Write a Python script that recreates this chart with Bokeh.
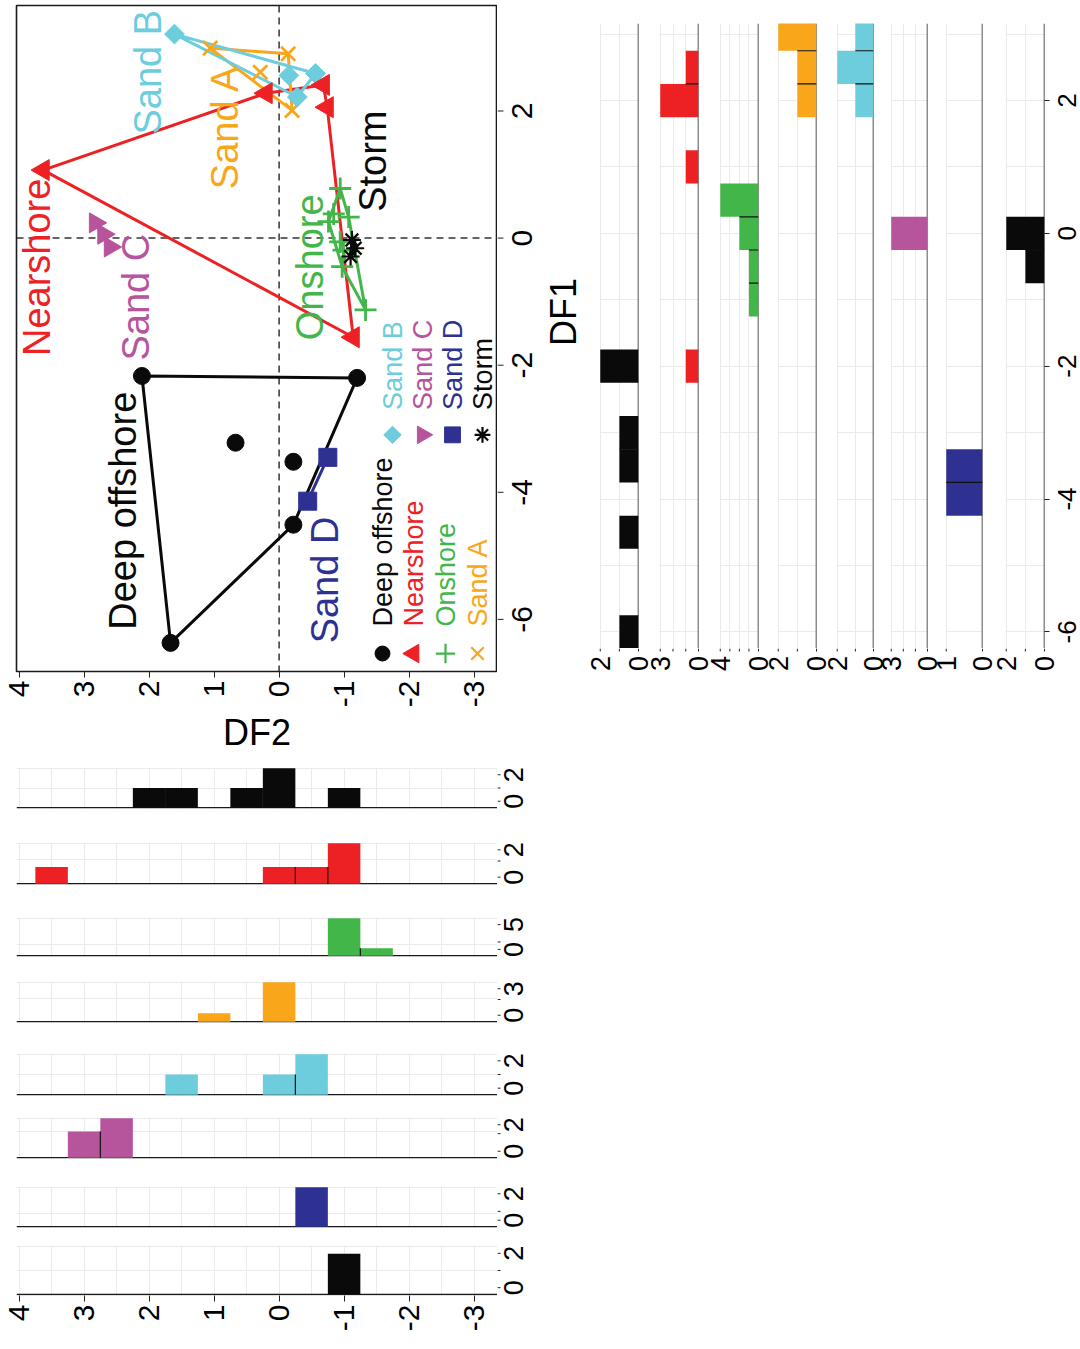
import math
from bokeh.plotting import figure
from bokeh.layouts import row, column
from bokeh.models import Range1d, FixedTicker, Span, Grid
from bokeh.embed import file_html
from bokeh.resources import INLINE
from bokeh.core.properties import value

FONT = "Liberation Sans"

# ------------------------------------------------------------------ data
groups = ["Deep offshore", "Nearshore", "Onshore", "Sand A",
          "Sand B", "Sand C", "Sand D", "Storm"]
group_colors = ["#0a0a0a", "#ed2024", "#42b649", "#faa61a",
                "#6dcddc", "#b6549c", "#2e3192", "#0a0a0a"]

# discriminant scores (DF2, DF1) per group
deep_df2 = [2.11, 0.67, 1.67, -1.20, -0.22, -0.22]
deep_df1 = [-2.17, -3.22, -6.37, -2.20, -3.52, -4.51]
near_df2 = [3.63, 0.20, -0.68, -0.74, -1.14]
near_df1 = [1.07, 2.28, 2.41, 2.06, -1.56]
onsh_df2 = [-0.94, -0.84, -1.07, -0.76, -0.94, -0.99, -0.97, -1.33]
onsh_df1 = [0.78, 0.38, 0.33, 0.26, -0.06, -0.19, -0.45, -1.13]
sanda_df2 = [1.06, -0.14, 0.29, -0.20]
sanda_df1 = [2.99, 2.90, 2.61, 2.01]
sandb_df2 = [1.61, -0.56, -0.28, -0.15]
sandb_df1 = [3.21, 2.59, 2.22, 2.56]
sandc_df2 = [2.83, 2.70, 2.60]
sandc_df1 = [0.24, 0.06, -0.14]
sandd_df2 = [-0.75, -0.44]
sandd_df1 = [-3.45, -4.14]
storm_df2 = [-1.12, -1.17, -1.10]
storm_df1 = [-0.03, -0.16, -0.29]

# DF1 histograms (bin centres, bar heights), bin width 0.5
deep_h1_c = [-6.0, -4.5, -3.5, -3.0, -2.0]
deep_h1_n = [1, 1, 1, 1, 2]
near_h1_c = [-2.0, 1.0, 2.0, 2.5]
near_h1_n = [1, 1, 3, 1]
onsh_h1_c = [-1.0, -0.5, 0.0, 0.5]
onsh_h1_n = [1, 1, 2, 4]
sanda_h1_c = [2.0, 2.5, 3.0]
sanda_h1_n = [1, 1, 2]
sandb_h1_c = [2.0, 2.5, 3.0]
sandb_h1_n = [1, 2, 1]
sandc_h1_c = [0.0]
sandc_h1_n = [3]
sandd_h1_c = [-4.0, -3.5]
sandd_h1_n = [1, 1]
storm_h1_c = [-0.5, 0.0]
storm_h1_n = [1, 2]
h1_axis_max = [2, 3, 4, 2, 2, 3, 1, 2]

# DF2 histograms (bin centres, bar heights), bin width 0.5
deep_h2_c = [-1.0, 0.0, 0.5, 1.5, 2.0]
deep_h2_n = [1, 2, 1, 1, 1]
near_h2_c = [-1.0, -0.5, 0.0, 3.5]
near_h2_n = [2, 0.83, 0.83, 0.83]
onsh_h2_c = [-1.5, -1.0]
onsh_h2_n = [1, 5]
sanda_h2_c = [0.0, 1.0]
sanda_h2_n = [3, 0.65]
sandb_h2_c = [-0.5, 0.0, 1.5]
sandb_h2_n = [2, 1, 1]
sandc_h2_c = [2.5, 3.0]
sandc_h2_n = [2, 1.33]
sandd_h2_c = [-0.5]
sandd_h2_n = [2]
storm_h2_c = [-1.0]
storm_h2_n = [1.7]
h2_axis_max = [2, 2, 5, 3, 2, 2, 2, 2]
h2_axis_mid = [1, 1.18, 1.5, 1.78, 1, 1.33, 0.67, 1]

df2_ticks = [-3, -2, -1, 0, 1, 2, 3, 4]
df1_ticks = [-6, -4, -2, 0, 2]
BIN_W = 0.5

scatter_df2 = [deep_df2, near_df2, onsh_df2, sanda_df2, sandb_df2, sandc_df2, sandd_df2, storm_df2]
scatter_df1 = [deep_df1, near_df1, onsh_df1, sanda_df1, sandb_df1, sandc_df1, sandd_df1, storm_df1]
h1_c = [deep_h1_c, near_h1_c, onsh_h1_c, sanda_h1_c, sandb_h1_c, sandc_h1_c, sandd_h1_c, storm_h1_c]
h1_n = [deep_h1_n, near_h1_n, onsh_h1_n, sanda_h1_n, sandb_h1_n, sandc_h1_n, sandd_h1_n, storm_h1_n]
h2_c = [deep_h2_c, near_h2_c, onsh_h2_c, sanda_h2_c, sandb_h2_c, sandc_h2_c, sandd_h2_c, storm_h2_c]
h2_n = [deep_h2_n, near_h2_n, onsh_h2_n, sanda_h2_n, sandb_h2_n, sandc_h2_n, sandd_h2_n, storm_h2_n]

# ------------------------------------------------------------------ styles / layout (page px)
SC_LEFT, SC_RIGHT, SC_TOP, SC_BOTTOM = 16, 497, 5, 672
SC_BORDER_B = 84
SC_STRIP_W = 88
DF2_LEFT, DF2_RIGHT = 4.04, -3.36
DF1_TOP, DF1_BOTTOM = 3.66, -6.82
GRID = "#ebebeb"
TICK_FONT = "30px"
COUNT_FONT = "27px"


def sx(px):
    return DF2_LEFT + (px - SC_LEFT) / (SC_RIGHT - SC_LEFT) * (DF2_RIGHT - DF2_LEFT)


def sy(py):
    return DF1_TOP + (py - SC_TOP) / (SC_BOTTOM - SC_TOP) * (DF1_BOTTOM - DF1_TOP)


marker_style = [
    dict(marker="circle", size=17, lw=1),
    dict(marker="triangle", size=21, lw=1, angle=math.pi / 2),
    dict(marker="cross", size=22, lw=2.8),
    dict(marker="x", size=20, lw=2.8),
    dict(marker="square", size=14, lw=1, angle=math.pi / 4),
    dict(marker="inverted_triangle", size=20, lw=1, angle=math.pi / 2),
    dict(marker="square", size=18, lw=1),
    dict(marker="asterisk", size=18, lw=2.2),
]


def hull(xs, ys):
    pts = sorted(set(zip(xs, ys)))
    if len(pts) <= 2:
        return pts

    def cross(o, a, b):
        return (a[0] - o[0]) * (b[1] - o[1]) - (a[1] - o[1]) * (b[0] - o[0])

    lower, upper = [], []
    for p in pts:
        while len(lower) >= 2 and cross(lower[-2], lower[-1], p) <= 0:
            lower.pop()
        lower.append(p)
    for p in reversed(pts):
        while len(upper) >= 2 and cross(upper[-2], upper[-1], p) <= 0:
            upper.pop()
        upper.append(p)
    return lower[:-1] + upper[:-1]


def separators(centres, counts):
    pairs = sorted(zip(centres, counts))
    out = []
    for (c0, n0), (c1, n1) in zip(pairs, pairs[1:]):
        if abs(c1 - c0 - BIN_W) < 1e-6 and n0 > 0 and n1 > 0:
            out.append(((c0 + c1) / 2.0, min(n0, n1)))
    return out


def fmt(v):
    return ("%g" % v).replace("\u2212", "-")


def tick_style(ax, size, tick_out=5, standoff=3):
    ax.major_label_text_font = FONT
    ax.major_label_text_font_size = size
    ax.major_label_text_color = "black"
    ax.major_label_orientation = math.pi / 2
    ax.major_label_standoff = standoff
    ax.major_tick_in = 0
    ax.major_tick_out = tick_out
    ax.major_tick_line_color = "#222222"
    ax.major_tick_line_width = 1
    ax.minor_tick_line_color = None
    ax.axis_line_color = None


def clean(p):
    p.outline_line_color = None
    p.background_fill_color = "white"
    p.border_fill_color = "white"
    for g in p.grid:
        g.visible = False


def bare(width, height, x_range, y_range, bt=0, bb=0):
    f = figure(width=width, height=height, x_range=x_range, y_range=y_range,
               x_axis_location=None, y_axis_location=None,
               min_border_left=0, min_border_right=0, min_border_top=bt, min_border_bottom=bb,
               output_backend="svg", toolbar_location=None)
    clean(f)
    return f


def strip(width, bt, frame_h, bb, y_range, tick_vals, tick_len, label_vals, label_x, font_size):
    """Narrow figure at the right of a panel carrying centred, rotated tick labels."""
    f = bare(width, bt + frame_h + bb, Range1d(0, width), y_range, bt, bb)
    if tick_len > 0:
        f.segment(x0=0, x1=tick_len, y0=tick_vals, y1=tick_vals, line_color="#222222", line_width=1)
    f.text(x=[label_x] * len(label_vals), y=label_vals, text=[fmt(v) for v in label_vals],
           angle=math.pi / 2, text_font=value(FONT), text_font_size=font_size,
           text_color="black", text_align="center", text_baseline="middle")
    return f


# ------------------------------------------------------------------ scatter
sc_h = SC_TOP + (SC_BOTTOM - SC_TOP) + SC_BORDER_B
sc_yr = Range1d(DF1_BOTTOM, DF1_TOP)
ps = figure(width=SC_RIGHT, height=sc_h,
            x_range=Range1d(DF2_LEFT, DF2_RIGHT), y_range=sc_yr,
            x_axis_location="below", y_axis_location=None,
            min_border_left=SC_LEFT, min_border_right=0,
            min_border_top=SC_TOP, min_border_bottom=SC_BORDER_B,
            output_backend="svg", toolbar_location=None)
clean(ps)
ps.outline_line_color = "#1a1a1a"
ps.outline_line_width = 1.6

xa = ps.xaxis[0]
xa.ticker = FixedTicker(ticks=df2_ticks)
xa.major_label_overrides = {t: fmt(t) for t in df2_ticks}
tick_style(xa, TICK_FONT, tick_out=6, standoff=3)
xa.axis_label = "DF2"
xa.axis_label_text_font = FONT
xa.axis_label_text_font_size = "36px"
xa.axis_label_text_font_style = "normal"
xa.axis_label_text_color = "black"
xa.axis_label_standoff = 2

ps.add_layout(Span(location=0, dimension="height", line_color="#333333",
                   line_dash="7 5", line_width=1.5, level="underlay"))
ps.add_layout(Span(location=0, dimension="width", line_color="#333333",
                   line_dash="7 5", line_width=1.5, level="underlay"))

for i in range(len(groups)):
    h = hull(scatter_df2[i], scatter_df1[i])
    hx = [q[0] for q in h] + [h[0][0]]
    hy = [q[1] for q in h] + [h[0][1]]
    ps.line(hx, hy, line_color=group_colors[i], line_width=3, line_join="round")

draw_order = [6, 0, 2, 7, 3, 4, 1, 5]
for i in draw_order:
    st = marker_style[i]
    c = group_colors[i]
    ps.scatter(scatter_df2[i], scatter_df1[i], marker=st["marker"], size=st["size"],
               angle=st.get("angle", 0.0), fill_color=c, line_color=c, line_width=st["lw"])

# group names written beside the clusters
name_df2 = [2.40, 3.72, -0.47, 0.84, 2.02, 2.20, -0.71, -1.45]
name_df1 = [-4.29, -0.46, -0.46, 1.75, 2.61, -0.93, -5.38, 1.21]
ps.text(x=name_df2, y=name_df1, text=groups, angle=math.pi / 2,
        text_font=value(FONT), text_font_size="38px", text_color=group_colors,
        text_align="center", text_baseline="middle")

# legend (two blocks of four entries)
leg_cols_px = [[382, 413, 445, 477], [392, 422, 452, 482]]
leg_marker_py = [654, 435]
leg_text_py = [627, 410]
for b in range(2):
    for k in range(4):
        i = b * 4 + k
        st = marker_style[i]
        c = group_colors[i]
        ps.scatter([sx(leg_cols_px[b][k])], [sy(leg_marker_py[b])], marker=st["marker"],
                   size=st["size"] * 0.88, angle=st.get("angle", 0.0),
                   fill_color=c, line_color=c, line_width=min(st["lw"], 2.2))
        ps.text(x=[sx(leg_cols_px[b][k])], y=[sy(leg_text_py[b])], text=[groups[i]],
                angle=math.pi / 2, text_font=value(FONT), text_font_size="27px",
                text_color=c, text_align="left", text_baseline="middle")

# right-hand DF1 axis of the scatter (ticks, labels and title)
ps_strip = strip(SC_STRIP_W, SC_TOP, SC_BOTTOM - SC_TOP, SC_BORDER_B, sc_yr,
                 df1_ticks, 6, df1_ticks, 24, TICK_FONT)
ps_strip.text(x=[563 - SC_RIGHT], y=[sy(312)], text=["DF1"], angle=math.pi / 2,
              text_font=value(FONT), text_font_size="36px", text_color="black",
              text_align="center", text_baseline="middle")

# ------------------------------------------------------------------ DF2 histograms (rows)
row_T = [767, 842, 917, 981, 1053, 1117, 1186, 1245]
row_B = [808, 884, 956, 1022, 1095, 1158, 1227, 1295]
EXT = 10
ROW_AXIS_B = 44
ROW_STRIP_W = 43

rows = []
prev_end = sc_h
for i in range(len(groups)):
    bt = row_T[i] - prev_end
    last = i == len(groups) - 1
    bb = ROW_AXIS_B if last else EXT
    top = h2_axis_max[i]
    y0, y1 = -0.02 * top, top * 1.02
    fh = row_B[i] - row_T[i]
    pr = figure(width=SC_RIGHT, height=bt + fh + bb,
                x_range=Range1d(DF2_LEFT, DF2_RIGHT), y_range=Range1d(y0, y1),
                x_axis_location="below" if last else None, y_axis_location=None,
                min_border_left=SC_LEFT, min_border_right=0,
                min_border_top=bt, min_border_bottom=bb,
                output_backend="svg", toolbar_location=None)
    clean(pr)
    pr.add_layout(Grid(dimension=0, ticker=FixedTicker(ticks=[v * 0.5 for v in range(-6, 9)]),
                       grid_line_color=GRID, grid_line_width=1))
    pr.add_layout(Grid(dimension=1, ticker=FixedTicker(ticks=[h2_axis_mid[i], top]),
                       grid_line_color=GRID, grid_line_width=1))
    if last:
        ax = pr.xaxis[0]
        ax.ticker = FixedTicker(ticks=df2_ticks)
        ax.major_label_overrides = {t: fmt(t) for t in df2_ticks}
        tick_style(ax, TICK_FONT, tick_out=6, standoff=3)
    pr.add_layout(Span(location=0, dimension="width", line_color="#1a1a1a",
                       line_width=1.5, level="underlay"))
    c = group_colors[i]
    cs, ns = h2_c[i], h2_n[i]
    pr.quad(left=[v + BIN_W / 2 for v in cs], right=[v - BIN_W / 2 for v in cs],
            bottom=0, top=ns, fill_color=c, line_color=None)
    seps = separators(cs, ns)
    if seps:
        pr.segment(x0=[s[0] for s in seps], y0=0, x1=[s[0] for s in seps], y1=[s[1] for s in seps],
                   line_color="#111111", line_width=1.2)
    # count axis on the right, drawn in a strip with centred rotated labels
    ppu = fh / (y1 - y0)
    st_yr = Range1d(y0 - EXT / ppu, y1 + EXT / ppu)
    rs = strip(ROW_STRIP_W, bt - EXT, fh + 2 * EXT, bb - EXT, st_yr,
               [0, h2_axis_mid[i], top], 3, [0, top], 16, COUNT_FONT)
    rows.append(row(pr, rs))
    prev_end = row_B[i] + bb

# ------------------------------------------------------------------ DF1 histograms (columns)
col_L = [599, 659, 719, 777, 836, 890, 945, 1005]
col_R = [638, 698, 758, 816, 873, 927, 982, 1044]
COL_TOP, COL_BOTTOM = 23, 648
COL_AXIS_H = 34
H1_TOP, H1_BOTTOM = 3.16, -6.25
col_yr = Range1d(H1_BOTTOM, H1_TOP)
LAST_BR = 9
BLOCK_LEFT = SC_RIGHT + SC_STRIP_W
PAGE_W = 1080

cols = []
start = BLOCK_LEFT
n = len(groups)
tick_px, lab_px, lab_txt = [], [], []
for i in range(n):
    last = i == n - 1
    bl = col_L[i] - start
    br = LAST_BR if last else (col_L[i + 1] - col_R[i]) // 2
    fw = col_R[i] - col_L[i]
    m = h1_axis_max[i]
    xmax = m * 1.02
    pc = figure(width=bl + fw + br, height=COL_BOTTOM,
                x_range=Range1d(xmax, 0), y_range=col_yr,
                x_axis_location=None, y_axis_location="right" if last else None,
                min_border_left=bl, min_border_right=br,
                min_border_top=COL_TOP, min_border_bottom=0,
                output_backend="svg", toolbar_location=None)
    clean(pc)
    pc.add_layout(Grid(dimension=1, ticker=FixedTicker(ticks=list(range(-6, 4))),
                       grid_line_color=GRID, grid_line_width=1))
    pc.add_layout(Grid(dimension=0, ticker=FixedTicker(ticks=list(range(1, m + 1))),
                       grid_line_color=GRID, grid_line_width=1))
    if last:
        ay = pc.yaxis[0]
        ay.ticker = FixedTicker(ticks=df1_ticks)
        ay.major_label_overrides = {t: "" for t in df1_ticks}
        ay.major_label_text_font_size = "1px"
        ay.major_label_standoff = 0
        ay.major_tick_in = 0
        ay.major_tick_out = 5
        ay.major_tick_line_color = "#222222"
        ay.minor_tick_line_color = None
        ay.axis_line_color = None
    pc.add_layout(Span(location=0, dimension="height", line_color="#1a1a1a",
                       line_width=1.5, level="underlay"))
    c = group_colors[i]
    cs, ns = h1_c[i], h1_n[i]
    pc.quad(left=ns, right=0, bottom=[v - BIN_W / 2 for v in cs], top=[v + BIN_W / 2 for v in cs],
            fill_color=c, line_color=None)
    seps = separators(cs, ns)
    if seps:
        pc.segment(x0=0, y0=[s[0] for s in seps], x1=[s[1] for s in seps], y1=[s[0] for s in seps],
                   line_color="#111111", line_width=1.2)
    cols.append(pc)
    # count scale of this panel -> page pixels, for the shared count-axis strip below
    to_px = (lambda L, w, mx: (lambda v: L + (mx - v) / mx * w))(col_L[i], fw, xmax)
    tick_px += [to_px(k) for k in range(0, m + 1)]
    lab_px += [to_px(m), to_px(0)]
    lab_txt += [str(m), "0"]
    start = col_R[i] + br

col_strip = strip(PAGE_W - start, COL_TOP, COL_BOTTOM - COL_TOP, 0, col_yr,
                  df1_ticks, 0, df1_ticks, 1066 - start, "26px")

# shared strip with the count axes of the eight DF1 panels
cnt = bare(PAGE_W - BLOCK_LEFT, COL_AXIS_H, Range1d(BLOCK_LEFT, PAGE_W), Range1d(-COL_AXIS_H, 0))
cnt.segment(x0=tick_px, x1=tick_px, y0=0, y1=-3, line_color="#222222", line_width=1)
cnt.text(x=lab_px, y=[-15] * len(lab_px), text=lab_txt, angle=math.pi / 2,
         text_font=value(FONT), text_font_size=COUNT_FONT, text_color="black",
         text_align="center", text_baseline="middle")

left_block = column(row(ps, ps_strip), *rows)
right_block = column(row(*cols, col_strip), cnt)
layout = row(left_block, right_block)

with open("out.html", "w") as f:
    f.write(file_html(layout, INLINE, title="DF scatter"))
